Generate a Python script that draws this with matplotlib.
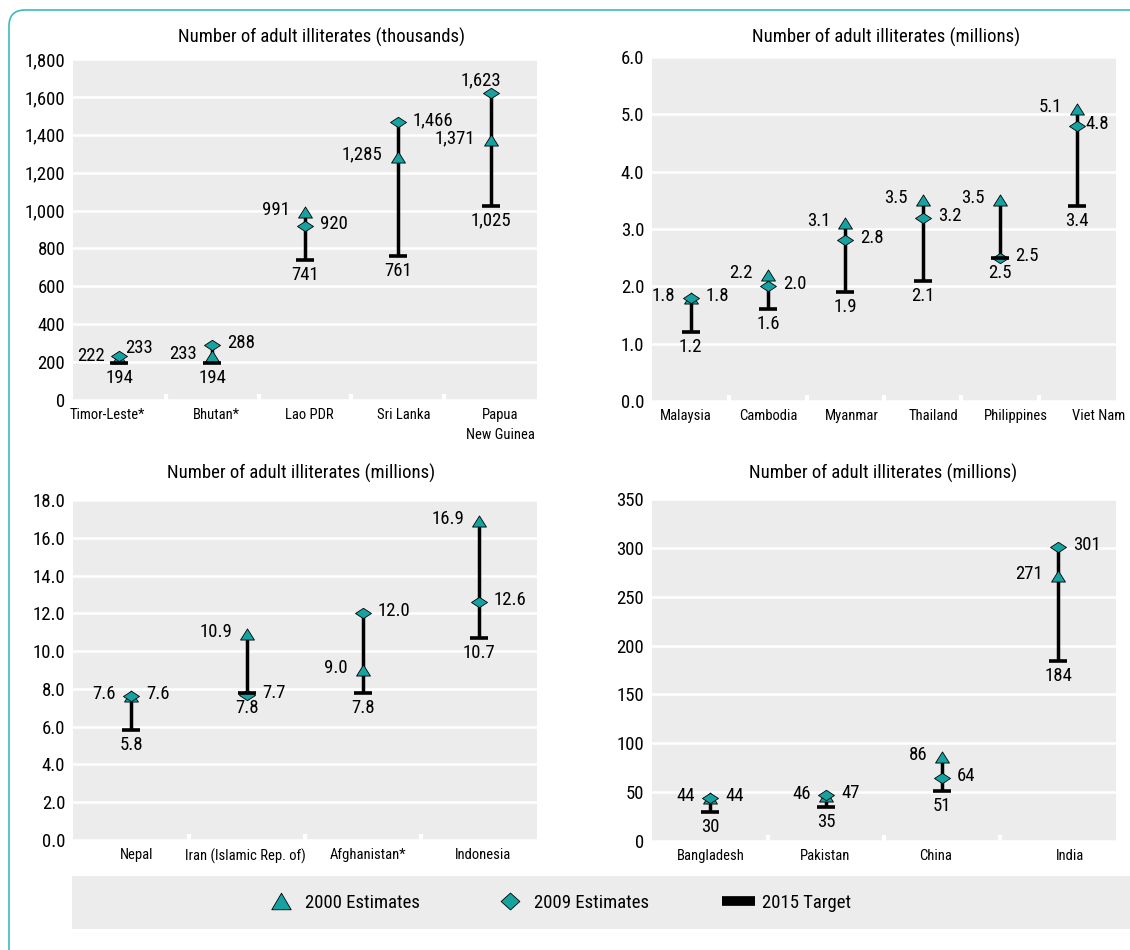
import matplotlib.pyplot as plt
import numpy as np
from matplotlib import font_manager
from matplotlib.lines import Line2D
from matplotlib.patches import Rectangle, PathPatch
from matplotlib.path import Path

# pick a narrow sans if one is installed, otherwise Liberation Sans
fonts = font_manager.fontManager.ttflist
names = {f.name for f in fonts}
narrow = [n for n in ['Liberation Sans Narrow', 'Roboto Condensed', 'Open Sans Condensed',
                      'Noto Sans Condensed', 'DejaVu Sans Condensed'] if n in names]
narrow += sorted({f.name for f in fonts if f.stretch in ('condensed', 'semi-condensed')
                  and 'Serif' not in f.name and 'Mono' not in f.name})
FAMILY = narrow[0] if narrow else 'Liberation Sans'
plt.rcParams['font.family'] = [FAMILY, 'DejaVu Sans']
plt.rcParams['font.stretch'] = 'condensed' if narrow else 'normal'
SCALE = 1.0 if narrow else 0.9

W, H = 1130, 950
TEAL = '#17a2a2'
GRAY = '#ececec'
BORDER = '#3cbaba'

# ---- data ----
tl_countries = ['Timor-Leste*', 'Bhutan*', 'Lao PDR', 'Sri Lanka', 'Papua\nNew Guinea']
tl_2000 = [222, 233, 991, 1285, 1371]
tl_2009 = [233, 288, 920, 1466, 1623]
tl_2015 = [194, 194, 741, 761, 1025]

tr_countries = ['Malaysia', 'Cambodia', 'Myanmar', 'Thailand', 'Philippines', 'Viet Nam']
tr_2000 = [1.8, 2.2, 3.1, 3.5, 3.5, 5.1]
tr_2009 = [1.8, 2.0, 2.8, 3.2, 2.5, 4.8]
tr_2015 = [1.2, 1.6, 1.9, 2.1, 2.5, 3.4]

bl_countries = ['Nepal', 'Iran (Islamic Rep. of)', 'Afghanistan*', 'Indonesia']
bl_2000 = [7.6, 10.9, 9.0, 16.9]
bl_2009 = [7.6, 7.7, 12.0, 12.6]
bl_2015 = [5.8, 7.8, 7.8, 10.7]

br_countries = ['Bangladesh', 'Pakistan', 'China', 'India']
br_2000 = [44, 46, 86, 271]
br_2009 = [44, 47, 64, 301]
br_2015 = [30, 35, 51, 184]

title_th = 'Number of adult illiterates (thousands)'
title_mn = 'Number of adult illiterates (millions)'

FS = 13.5 * SCALE
FS_X = 10.5 * SCALE

# marker shapes
tri = Path([(0, 0.8), (-1, -0.8), (1, -0.8), (0, 0.8)], closed=True)
dia = Path([(-1, 0), (0, 0.65), (1, 0), (0, -0.65), (-1, 0)], closed=True)
tri_leg = Path([(0, 0.85), (-1, -0.85), (1, -0.85), (0, 0.85)], closed=True)
dia_leg = Path([(-1, 0), (0, 0.9), (1, 0), (0, -0.9), (-1, 0)], closed=True)

fig = plt.figure(figsize=(W / 100, H / 100), dpi=100)

# background decoration: rounded teal frame and legend strip
bg = fig.add_axes([0, 0, 1, 1], zorder=-10)
bg.set_xlim(0, W)
bg.set_ylim(H, 0)
bg.axis('off')
frame = Path([(9, H + 5), (9, 26), (9, 10), (25, 10), (W + 5, 10)],
             [Path.MOVETO, Path.LINETO, Path.CURVE3, Path.CURVE3, Path.LINETO])
bg.add_patch(PathPatch(frame, fill=False, edgecolor=BORDER, lw=1.2))
bg.add_patch(Rectangle((72, 876), W - 72, 53, facecolor=GRAY, edgecolor='none'))


def px_axes(l, t, r, b):
    return fig.add_axes([l / W, 1 - b / H, (r - l) / W, (b - t) / H])


def panel(box, countries, v00, v09, v15, ymax, step, fmt, title, title_x, title_y,
          shifts, overrides=None):
    overrides = overrides or {}
    ax = px_axes(*box)
    n = len(countries)
    x = np.arange(n)
    ax.set_facecolor(GRAY)
    for s in ax.spines.values():
        s.set_visible(False)
    ax.set_xlim(-0.5, n - 0.5)
    ax.set_ylim(0, ymax)
    yt = np.arange(0, ymax + step / 2, step)
    ax.set_yticks(yt, [fmt.format(v) for v in yt])
    ax.yaxis.grid(True, color='white', lw=1.8)
    ax.set_axisbelow(True)
    cat_px = (box[2] - box[0]) / n
    ax.set_xticks(x + np.array(shifts) / cat_px, countries, linespacing=1.5)
    ax.set_xticks(np.arange(n - 1) + 0.5, minor=True)
    ax.tick_params(axis='x', which='major', length=0, pad=6, labelsize=FS_X)
    ax.tick_params(axis='y', length=0, pad=5.5, labelsize=FS)
    ax.tick_params(axis='x', which='minor', direction='in', length=4, width=3,
                   color='white')

    tops = np.maximum(v00, v09)
    ax.vlines(x, v15, tops, color='black', lw=2.5, zorder=2)
    ax.plot(x, v00, ls='none', marker=tri, ms=10, mfc=TEAL, mec='black', mew=0.6, zorder=3)
    ax.plot(x, v09, ls='none', marker=dia, ms=11.5, mfc=TEAL, mec='black', mew=0.6, zorder=4)
    ax.plot(x, v15, ls='none', marker='_', ms=12.5, mew=2.6, color='black', zorder=5)

    for i in range(n):
        specs = [
            ('a', v00[i], dict(dx=-15, dy=2, ha='right', va='center')),
            ('b', v09[i], dict(dx=15, dy=2, ha='left', va='center')),
            ('c', v15[i], dict(dx=0, dy=-6, ha='center', va='top')),
        ]
        for key, v, st in specs:
            st = {**st, **overrides.get((i, key), {})}
            ax.annotate(fmt.format(v), (i, v), xytext=(st['dx'], st['dy']),
                        textcoords='offset pixels', ha=st['ha'], va=st['va'],
                        fontsize=FS, zorder=6)

    fig.text(title_x / W, 1 - title_y / H, title, ha='center', va='center', fontsize=FS)
    return ax


panel((73, 59, 537, 400), tl_countries, tl_2000, tl_2009, tl_2015, 1800, 200, '{:,.0f}',
      title_th, 322, 37, [-12, 4, 4, 6, 10],
      {(0, 'b'): dict(dx=6, dy=8), (4, 'b'): dict(dx=-10, dy=3, ha='center', va='bottom')})
panel((652, 57, 1116, 401), tr_countries, tr_2000, tr_2009, tr_2015, 6.0, 1.0, '{:.1f}',
      title_mn, 886, 37, [-5, 0, 6, 11, 16, 21],
      {(5, 'b'): dict(dx=8)})
panel((73, 500, 537, 840), bl_countries, bl_2000, bl_2009, bl_2015, 18.0, 2.0, '{:.1f}',
      title_mn, 301, 473, [6, -2, 5, 4])
panel((652, 499, 1116, 841), br_countries, br_2000, br_2009, br_2015, 350, 50, '{:.0f}',
      title_mn, 883, 473, [1, -1, -6, 12])

handles = [
    Line2D([], [], ls='none', marker=tri_leg, ms=14, mfc=TEAL, mec='black', mew=0.6,
           label='2000 Estimates'),
    Line2D([], [], ls='none', marker=dia_leg, ms=13.5, mfc=TEAL, mec='black', mew=0.6,
           label='2009 Estimates'),
    Line2D([], [], color='black', lw=7, solid_capstyle='butt', label='2015 Target'),
]
fig.legend(handles=handles, loc='center', bbox_to_anchor=(558 / W, 1 - 903 / H), ncol=3,
           frameon=False, fontsize=FS, handlelength=1.76 / SCALE, handletextpad=0.4,
           columnspacing=3.9 / SCALE)

fig.savefig('out.png', dpi=100)
